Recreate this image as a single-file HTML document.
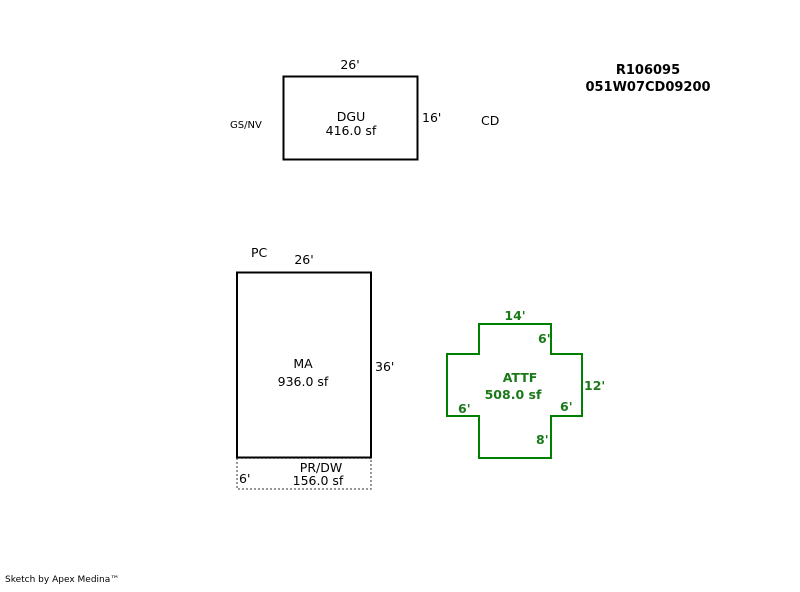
<!DOCTYPE html>
<html><head><style>
body{margin:0;background:#fff;}
svg text{font-family:"DejaVu Sans","Liberation Sans",sans-serif;font-size:12.5px;}
</style></head><body>
<svg width="800" height="587" xmlns="http://www.w3.org/2000/svg">
<rect x="283.5" y="76.5" width="134" height="83" fill="none" stroke="#000" stroke-width="2"/>
<text x="350" y="69" text-anchor="middle">26'</text>
<text x="351" y="121" text-anchor="middle">DGU</text>
<text x="351" y="135" text-anchor="middle">416.0 sf</text>
<text x="422" y="122">16'</text>
<text x="481" y="125">CD</text>
<text x="230" y="128" style="font-size:10px">GS/NV</text>
<text x="648" y="74" text-anchor="middle" style="font-weight:bold;font-size:13px">R106095</text>
<text x="648" y="91" text-anchor="middle" style="font-weight:bold;font-size:13px">051W07CD09200</text>
<text x="251" y="257">PC</text>
<text x="304" y="264" text-anchor="middle">26'</text>
<rect x="237" y="458" width="134" height="31" fill="none" stroke="#777" stroke-width="1.5" stroke-dasharray="2,2"/>
<rect x="237" y="272.5" width="134" height="185" fill="none" stroke="#000" stroke-width="2"/>
<text x="303" y="368" text-anchor="middle">MA</text>
<text x="303" y="386" text-anchor="middle">936.0 sf</text>
<text x="375" y="371">36'</text>
<text x="321" y="472" text-anchor="middle">PR/DW</text>
<text x="318" y="485" text-anchor="middle">156.0 sf</text>
<text x="239" y="483">6'</text>
<polygon points="479,324 551,324 551,354 582,354 582,416 551,416 551,458 479,458 479,416 447,416 447,354 479,354" fill="none" stroke="#008000" stroke-width="2"/>
<g fill="#1a7a1a" style="font-weight:bold">
<text x="515" y="320" text-anchor="middle">14'</text>
<text x="538" y="343">6'</text>
<text x="584" y="390">12'</text>
<text x="520" y="382" text-anchor="middle">ATTF</text>
<text x="513" y="399" text-anchor="middle">508.0 sf</text>
<text x="458" y="413">6'</text>
<text x="560" y="411">6'</text>
<text x="536" y="444">8'</text>
</g>
<text x="5" y="582" style="font-size:9px">Sketch by Apex Medina™</text>
</svg>
</body></html>
